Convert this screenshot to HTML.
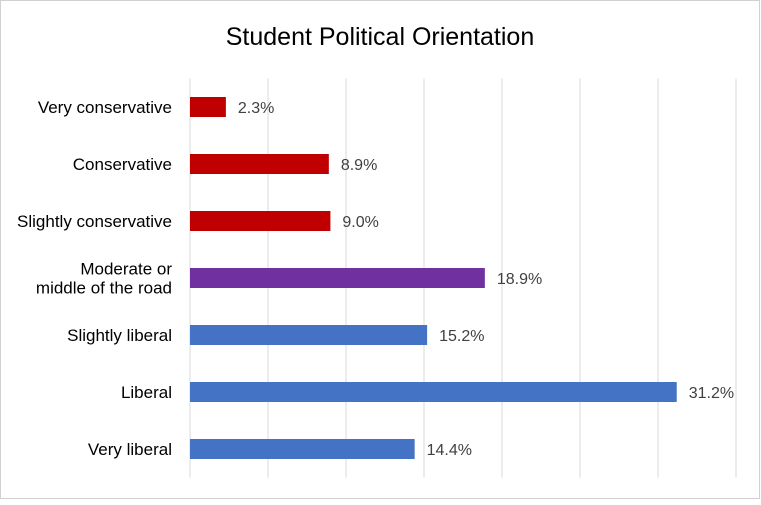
<!DOCTYPE html>
<html><head><meta charset="utf-8"><style>
body{margin:0;background:#fff;font-family:"Liberation Sans",sans-serif;}
#c{position:relative;width:761px;height:500px;}
</style></head><body>
<div id="c">
<svg width="761" height="500" id="svg">
<rect x="0.5" y="0.5" width="759" height="498" fill="#fff" stroke="#d0d0d0"/>
<text x="380" y="45" text-anchor="middle" font-size="25" fill="#000">Student Political Orientation</text>
<g id="grid"></g><g id="bars"></g>
</svg></div>
<script>
const categories=[["Very conservative"],["Conservative"],["Slightly conservative"],["Moderate or","middle of the road"],["Slightly liberal"],["Liberal"],["Very liberal"]];
const values=[2.3,8.9,9.0,18.9,15.2,31.2,14.4];
const colors=["#c00000","#c00000","#c00000","#7030a0","#4472c4","#4472c4","#4472c4"];
const ticks=[0,5,10,15,20,25,30,35];
const x0=190,xMax=736,vMax=35,yTop=78.5,band=57,bh=20;
const xs=v=>x0+(xMax-x0)*v/vMax;
const ns="http://www.w3.org/2000/svg";
const grid=document.getElementById('grid'),bars=document.getElementById('bars');
function mk(t,a,p){const e=document.createElementNS(ns,t);for(const k in a)e.setAttribute(k,a[k]);p.appendChild(e);return e;}
ticks.forEach(t=>{const l=mk('line',{x1:xs(t),x2:xs(t),y1:yTop,y2:yTop+band*values.length,stroke:'#d9d9d9','stroke-width':1},grid);

});
values.forEach((v,i)=>{const cy=yTop+band*(i+0.5);
const r=mk('rect',{x:x0,y:cy-bh/2,width:xs(v)-x0,height:bh,fill:colors[i]},bars);


const t=mk('text',{x:xs(v)+12,y:cy+6,'font-size':16,fill:'#404040'},bars);t.textContent=v.toFixed(1)+'%';


const lines=categories[i];
lines.forEach((s,j)=>{const ty=cy+6+(j-(lines.length-1)/2)*19;
const c=mk('text',{x:172,y:ty,'font-size':17,fill:'#000','text-anchor':'end'},bars);c.textContent=s;

});});
</script></body></html>
